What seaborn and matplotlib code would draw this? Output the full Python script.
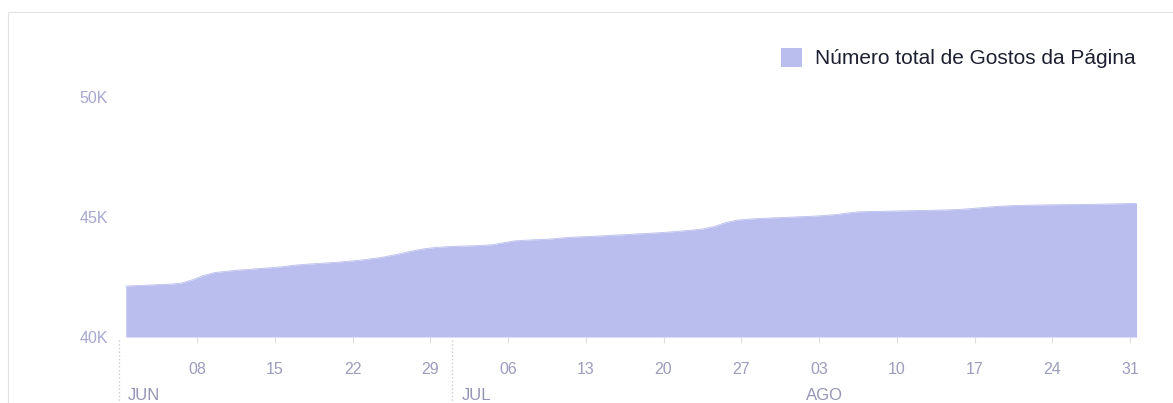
import pandas as pd
import seaborn as sns
import matplotlib.pyplot as plt
import matplotlib.dates as mdates
from matplotlib.patches import Rectangle
from matplotlib.transforms import blended_transform_factory

# daily totals of page likes, 1 Jun - 31 Aug
likes = [
    42120, 42140, 42160, 42180, 42200, 42240, 42380, 42560, 42680, 42730,
    42780, 42810, 42850, 42880, 42920, 42980, 43020, 43050, 43080, 43110,
    43150, 43190, 43250, 43310, 43400, 43500, 43600, 43680, 43730, 43760,
    43780, 43790, 43810, 43840, 43920, 44000, 44030, 44050, 44070, 44110,
    44150, 44170, 44190, 44210, 44240, 44260, 44290, 44310, 44340, 44370,
    44410, 44450, 44500, 44600, 44760, 44860, 44900, 44930, 44950, 44970,
    44990, 45010, 45030, 45060, 45100, 45160, 45210, 45220, 45230, 45240,
    45250, 45260, 45270, 45280, 45290, 45310, 45340, 45380, 45420, 45450,
    45470, 45480, 45490, 45500, 45505, 45510, 45515, 45520, 45530, 45540,
    45550, 45560,
]
start = "2016-06-01"
week_ticks = pd.date_range("2016-06-08", "2016-08-31", freq="7D")
months = ["JUN", "JUL", "AGO"]
month_starts = pd.to_datetime(["2016-06-01", "2016-07-01", "2016-08-01"])
y_ticks = [40000, 45000, 50000]
y_labels = ["40K", "45K", "50K"]
series_name = "Número total de Gostos da Página"

fill_col = "#babeee"
tick_col = "#9c9cbc"

sns.set_theme(style="white")
plt.rcParams["font.family"] = ["Liberation Sans", "DejaVu Sans"]

df = pd.DataFrame({
    "date": pd.date_range(start + " 14:00", periods=len(likes), freq="D"),
    "likes": likes,
})

fig = plt.figure(figsize=(11.73, 4.03), dpi=100)
ax = fig.add_axes([119.3 / 1173, 66 / 403, 1025.7 / 1173, 240.3 / 403])

sns.lineplot(data=df, x="date", y="likes", color=fill_col, linewidth=0.6, ax=ax)
area = ax.fill_between(df["date"], 40000, df["likes"], color=fill_col,
                       linewidth=0, label=series_name)

x0 = pd.Timestamp(start)
ax.set_xlim(x0, x0 + pd.Timedelta(days=92.35))
ax.set_ylim(40000, 50000)
ax.set_xlabel("")
ax.set_ylabel("")
for s in ax.spines.values():
    s.set_visible(False)

ax.set_yticks(y_ticks)
ax.set_yticklabels(y_labels)
ax.tick_params(axis="y", length=0, pad=8, labelsize=11.5, labelcolor="#a7a7d2")

ax.set_xticks(week_ticks)
ax.xaxis.set_major_formatter(mdates.DateFormatter("%d"))
ax.tick_params(axis="x", bottom=True, length=4, width=0.8, color="#dedede",
               pad=14, labelsize=11.5, labelcolor=tick_col)

# month labels and dotted separators under the axis
trans = blended_transform_factory(ax.transData, ax.transAxes)
for m, d in zip(months, month_starts):
    ax.text(d + pd.Timedelta(days=0.8), -0.245, m, transform=trans,
            ha="left", va="center", fontsize=12, color="#9494b4")
for d in month_starts[:2]:
    ax.plot([d, d], [-0.012, -0.28], transform=trans, clip_on=False,
            color="#cccccc", linestyle=":", linewidth=1)

ax.legend(handles=[area], loc="center right", frameon=False,
          bbox_to_anchor=(1146 / 1173, 1 - 58 / 403),
          bbox_transform=fig.transFigure, fontsize=15, handlelength=1.05,
          handleheight=1.05, handletextpad=0.6, borderpad=0, labelcolor="#1d2030")

# thin light frame around the card
fig.add_artist(Rectangle((8 / 1173, -0.05), 1.0, 1 - 12 / 403 + 0.05,
                         transform=fig.transFigure, fill=False,
                         edgecolor="#e2e2e2", linewidth=0.8))

plt.savefig("out.png", dpi=100)
